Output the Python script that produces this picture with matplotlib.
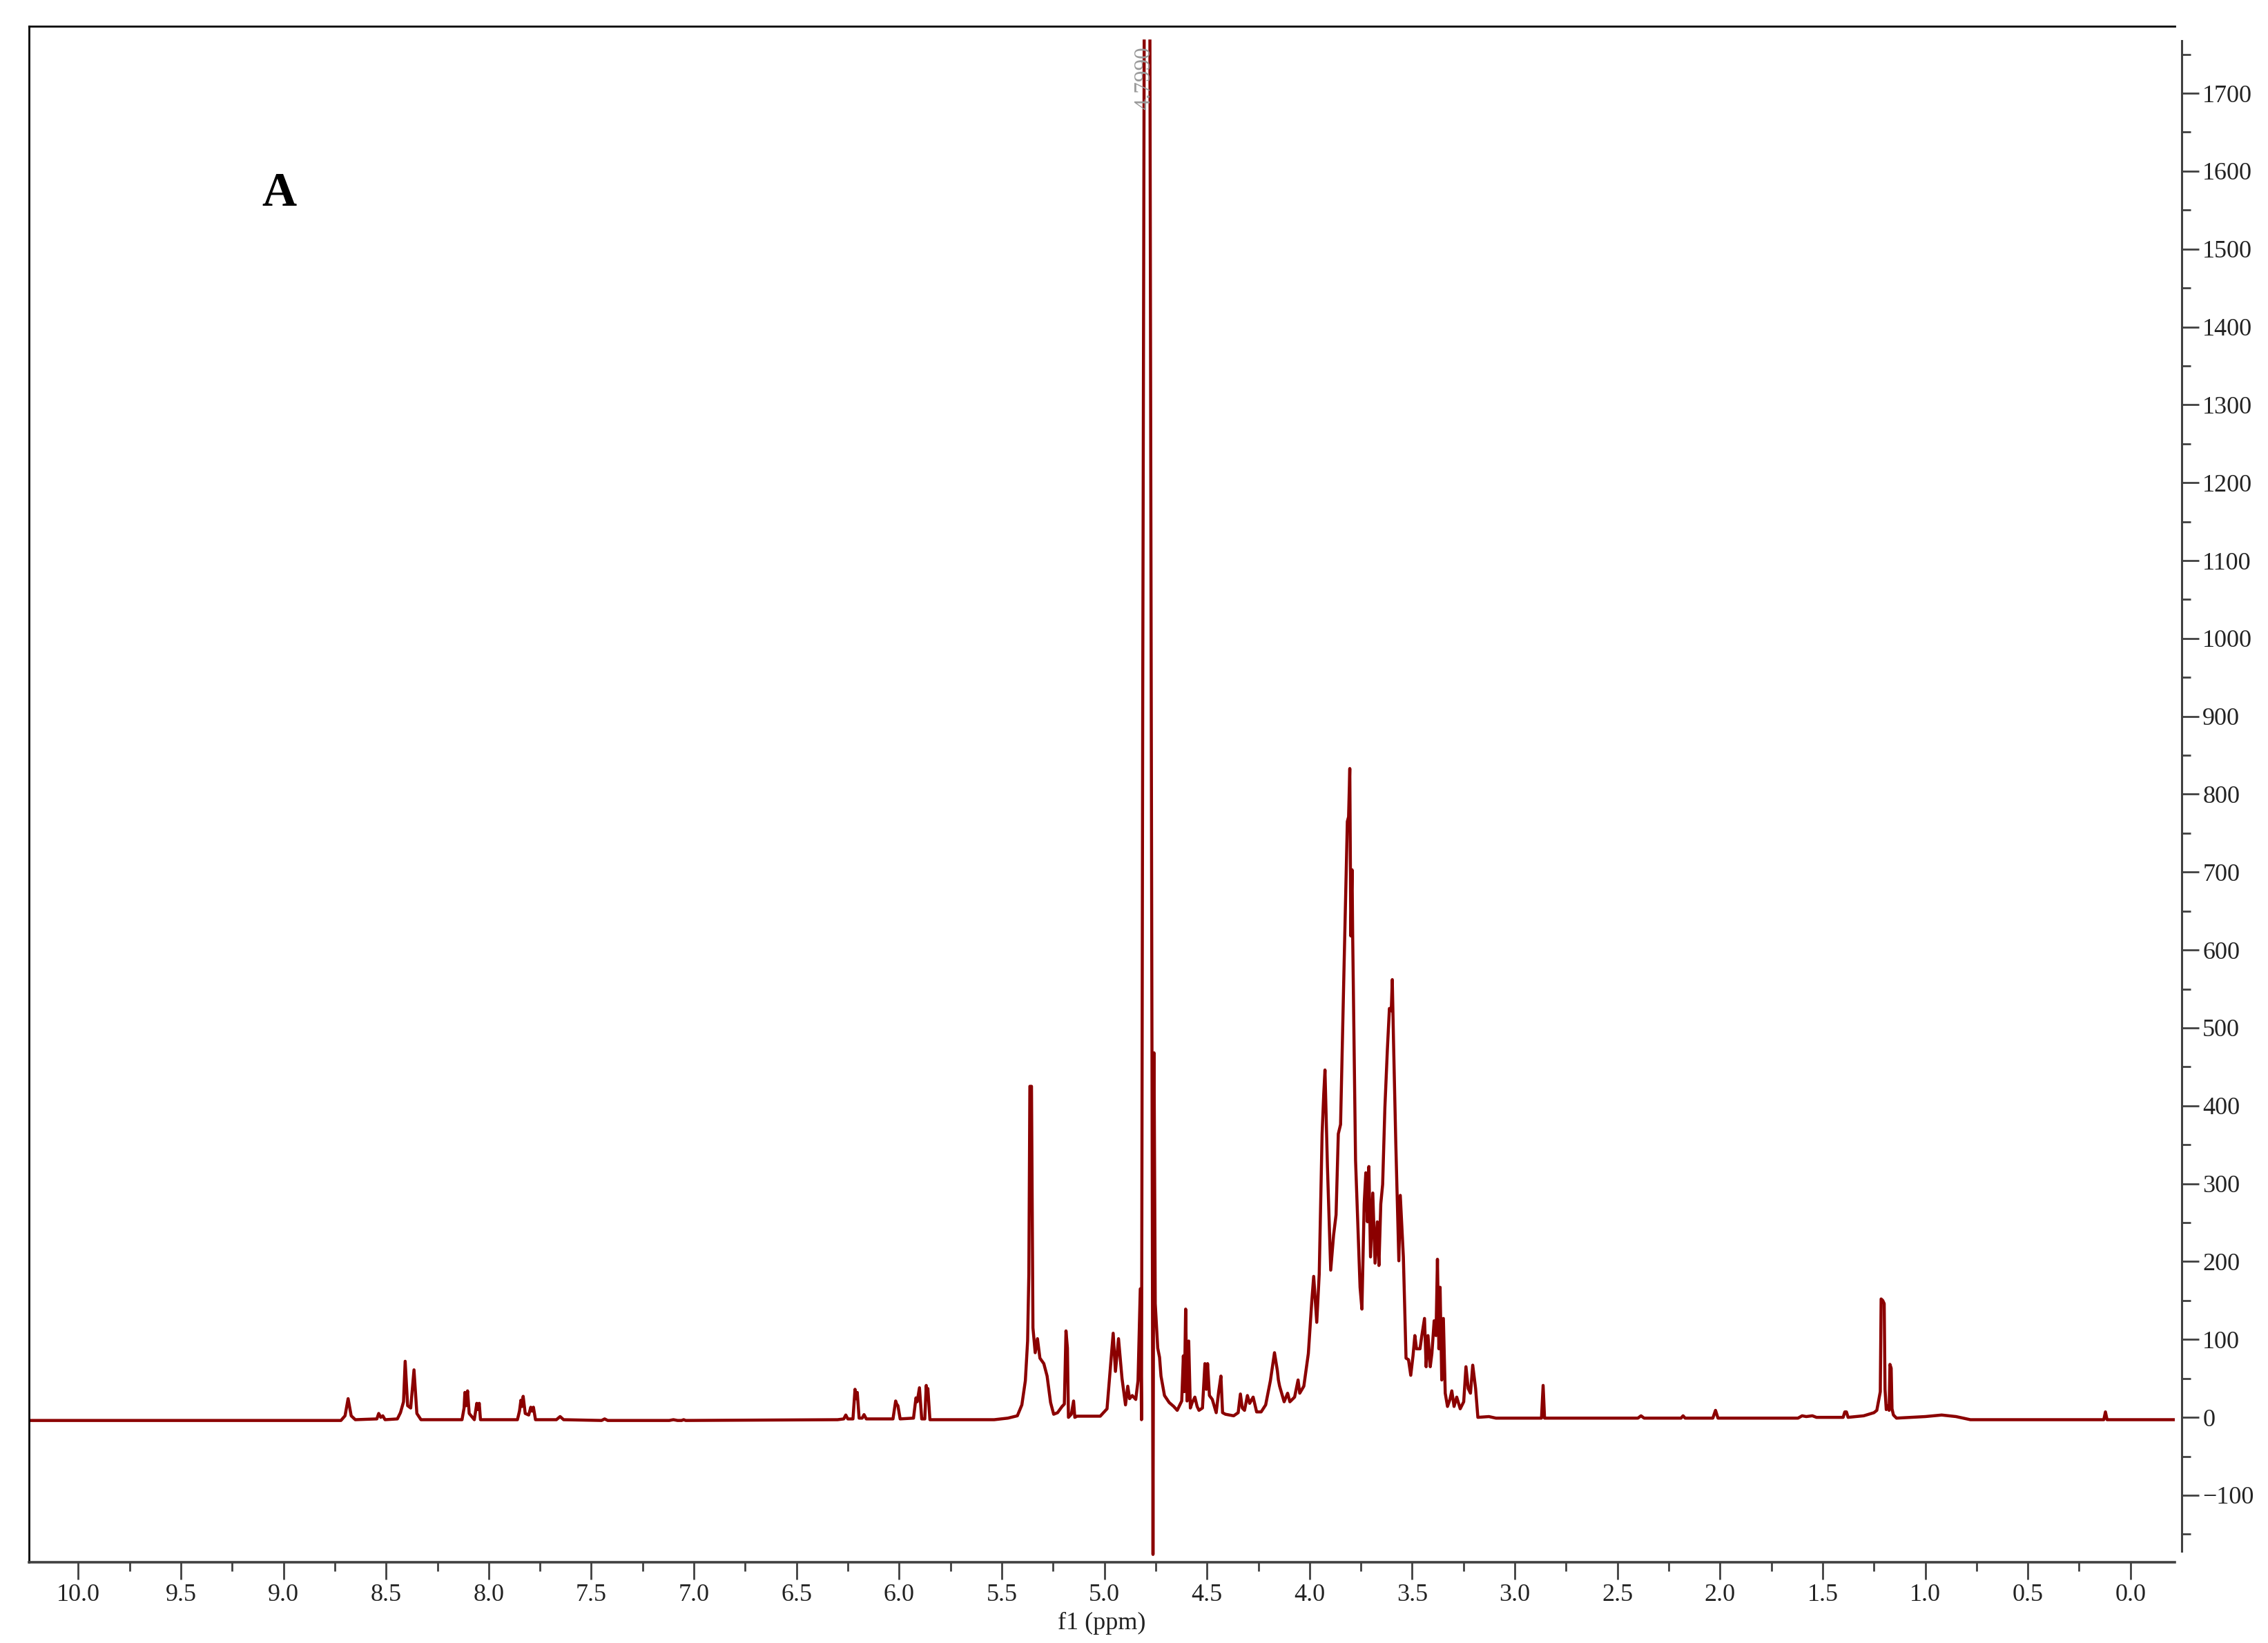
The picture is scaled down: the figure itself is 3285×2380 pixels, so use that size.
import numpy as np
import matplotlib
matplotlib.use("Agg")
import matplotlib.pyplot as plt
from matplotlib.ticker import MultipleLocator, FormatStrFormatter

# 1H NMR trace, vertices (ppm, intensity)
aromatic_ppm = [10.24, 8.72, 8.70, 8.685, 8.67, 8.65, 8.545, 8.536, 8.526, 8.516, 8.505,
                8.445, 8.43, 8.415, 8.407, 8.395, 8.38, 8.364, 8.35, 8.33,
                8.13, 8.12, 8.116, 8.11, 8.103, 8.095, 8.07, 8.058, 8.052, 8.046, 8.04,
                7.86, 7.85, 7.843, 7.838, 7.832, 7.822, 7.805, 7.795, 7.788, 7.782, 7.772,
                7.67, 7.652, 7.635, 7.45, 7.435, 7.42, 7.12, 7.10, 7.08, 7.06, 7.05, 7.04]
aromatic_int = [-4, -4, 2, 24, 2, -3, -2, 5, 0, 2, -3,
                -2, 6, 20, 72, 15, 12, 61, 5, -3,
                -3, 12, 32, 15, 34, 5, -3, 18, 10, 18, -3,
                -3, 8, 22, 14, 27, 5, 3, 13, 8, 13, -3,
                -3, 1, -3, -4, -2, -4, -4, -3, -4, -4, -3, -4]

olefin_ppm = [6.30, 6.27, 6.26, 6.25, 6.225, 6.215, 6.21, 6.204, 6.195, 6.18, 6.171, 6.16,
              6.03, 6.017, 6.012, 6.006, 5.995, 5.93, 5.918, 5.912, 5.901, 5.89,
              5.875, 5.868, 5.864, 5.86, 5.85, 5.70, 5.60]
olefin_int = [-3, -2, 3, -2, -2, 36, 24, 32, -1, -1, 3.5, -2,
              -2, 21, 17, 15, -2, -1, 25, 20, 38, -2,
              -2, 41, 30, 37, -3, -3, -3]

anomeric_ppm = [5.537, 5.47, 5.424, 5.402, 5.385, 5.374, 5.368, 5.363, 5.355, 5.348,
                5.337, 5.326, 5.314, 5.295, 5.279, 5.262, 5.247, 5.228, 5.206, 5.195,
                5.187, 5.18, 5.175, 5.161, 5.15, 5.144, 5.133, 5.02, 4.987, 4.957,
                4.946, 4.931, 4.914, 4.897, 4.886, 4.877, 4.864, 4.847, 4.836, 4.825,
                4.819, 4.813, 4.806, np.nan, 4.778, 4.763, 4.758, 4.752, 4.740, 4.731,
                4.724, 4.707, 4.684, 4.662, 4.645, 4.623, 4.615, 4.61, 4.604, 4.597,
                4.589, 4.581, 4.572, 4.559, 4.548, 4.539, 4.522, 4.51, 4.503, 4.497,
                4.488, 4.474, 4.455, 4.443, 4.432, 4.424, 4.41, 4.37, 4.348, 4.337,
                4.328, 4.317, 4.303, 4.292, 4.275, 4.258, 4.236, 4.214, 4.191, 4.171,
                4.157]
anomeric_int = [-3, -1, 2, 16, 47, 98, 184, 425, 425, 115,
                83, 101, 76, 69, 53, 19, 4, 6, 14, 17,
                111, 89, 0, 4, 21, 0, 1.5, 1.5, 11, 108,
                59, 101, 50, 16, 40, 24, 28, 23, 47, 165,
                -3, 930, 1767, np.nan, 1767, -176, 468, 146, 89, 77,
                53, 28, 19, 14, 9, 21, 79, 33, 139, 21,
                98, 12, 19, 26, 14, 9, 12, 69, 36, 69,
                28, 23, 6, 33, 53, 6, 4, 2, 6, 30,
                12, 9, 28, 18, 26, 7, 7, 16, 47, 83,
                60]

ring_ppm = [4.152, 4.146, 4.124, 4.107, 4.096, 4.073, 4.056, 4.048, 4.028, 4.006,
            3.989, 3.98, 3.965, 3.953, 3.939, 3.931, 3.925, 3.913, 3.897, 3.883,
            3.871, 3.86, 3.849, 3.832, 3.816, 3.81, 3.804, 3.799, 3.793, 3.79,
            3.776, 3.754, 3.745, 3.734, 3.726, 3.718, 3.711, 3.703, 3.692, 3.681,
            3.67, 3.662, 3.653, 3.644, 3.633, 3.621, 3.611, 3.602, 3.597, 3.591,
            3.58, 3.565, 3.558, 3.543, 3.53, 3.518, 3.507, 3.496, 3.487, 3.479,
            3.462, 3.453, 3.44, 3.432, 3.423, 3.412, 3.404, 3.393, 3.384, 3.377,
            3.37, 3.364, 3.356, 3.348, 3.339, 3.328, 3.316, 3.307, 3.296, 3.283,
            3.266, 3.249, 3.238, 3.227, 3.216, 3.205, 3.191, 3.18, 3.126, 3.092]
ring_int = [48, 40, 20, 31, 20, 26, 48, 31, 40, 82,
            150, 181, 122, 184, 364, 415, 446, 322, 189, 234,
            260, 364, 376, 579, 765, 771, 833, 618, 703, 618,
            330, 167, 139, 274, 314, 251, 322, 206, 288, 198,
            251, 195, 274, 299, 398, 472, 525, 522, 562, 483,
            353, 201, 285, 206, 76, 74, 54, 79, 105, 88,
            88, 105, 127, 65, 105, 65, 82, 124, 105, 203,
            88, 167, 48, 127, 31, 14, 23, 34, 14, 26,
            11, 20, 65, 37, 31, 67, 37, 0, 1, -1]

aliphatic_ppm = [2.90, 2.87, 2.862, 2.855, 2.40, 2.385, 2.37, 2.19, 2.18, 2.17,
                 2.035, 2.022, 2.01, 1.62, 1.60, 1.58, 1.55, 1.53, 1.40, 1.392,
                 1.384, 1.376, 1.30, 1.25, 1.236, 1.219, 1.215, 1.207, 1.200, 1.196,
                 1.19, 1.181, 1.176, 1.172, 1.166, 1.162, 1.155, 1.14, 1.0, 0.92,
                 0.85, 0.78, 0.13, 0.122, 0.114, -0.22]
aliphatic_int = [-1, -1, 41, -1, -1, 2, -1, -1, 2, -1,
                 -1, 9, -1, -1, 2, 1, 2, 0, 0, 7,
                 7, 0, 2, 6, 9, 33, 152, 150, 146, 36,
                 10, 15, 9, 68, 63, 11, 3, -1, 1, 3,
                 1, -3, -3, 7, -3, -3]

y_ticks = list(range(-100, 1701, 100))
x_ticks = [10.0, 9.5, 9.0, 8.5, 8.0, 7.5, 7.0, 6.5, 6.0, 5.5, 5.0, 4.5, 4.0,
           3.5, 3.0, 2.5, 2.0, 1.5, 1.0, 0.5, 0.0]

ppm = np.concatenate([aromatic_ppm, olefin_ppm, anomeric_ppm, ring_ppm, aliphatic_ppm])
intensity = np.concatenate([aromatic_int, olefin_int, anomeric_int, ring_int, aliphatic_int])

serif = ["Liberation Serif", "DejaVu Serif"]

fig = plt.figure(figsize=(32.85, 23.8), dpi=100)
ax = fig.add_axes([42 / 3285, 1 - 2263 / 2380, (3150 - 42) / 3285, (2263 - 38) / 2380])

ax.plot(ppm, intensity, color="#8B0000", lw=3.2, solid_joinstyle="round")

ax.set_xlim(10.24, -0.216)
ax.set_ylim(-186, 1786)

ax.yaxis.tick_right()
ax.spines["right"].set_position(("outward", 7))
ax.spines["right"].set_bounds(-172, 1767)
ax.spines["right"].set_color("#404040")
ax.spines["right"].set_linewidth(2.2)
for side in ["left", "top"]:
    ax.spines[side].set_color("black")
    ax.spines[side].set_linewidth(2.0)
ax.spines["bottom"].set_color("#404040")
ax.spines["bottom"].set_linewidth(2.6)

ax.set_xticks(x_ticks)
ax.xaxis.set_minor_locator(MultipleLocator(0.25))
ax.xaxis.set_major_formatter(FormatStrFormatter("%.1f"))
ax.set_yticks(y_ticks)
ax.yaxis.set_minor_locator(MultipleLocator(50))

ax.tick_params(axis="both", which="major", length=18, width=2.0, color="#404040",
               labelsize=26, labelcolor="#222222", pad=4)
ax.tick_params(axis="both", which="minor", length=9, width=2.0, color="#404040")
ax.tick_params(axis="y", which="both", left=False, right=True)
for lab in ax.get_xticklabels() + ax.get_yticklabels():
    lab.set_family(serif)

ax.set_xlabel("f1 (ppm)", fontsize=26, family=serif, color="#222222", labelpad=6)

ax.text(4.806, 1760, "4.7990", rotation=90, va="top", ha="center",
        fontsize=24, color="#9a9a9a", family=serif)

fig.text(404 / 3285, 1 - 281 / 2380, "A", fontsize=50, fontweight="bold",
         family=serif, ha="center", va="center")

fig.savefig("out.png", dpi=100)
